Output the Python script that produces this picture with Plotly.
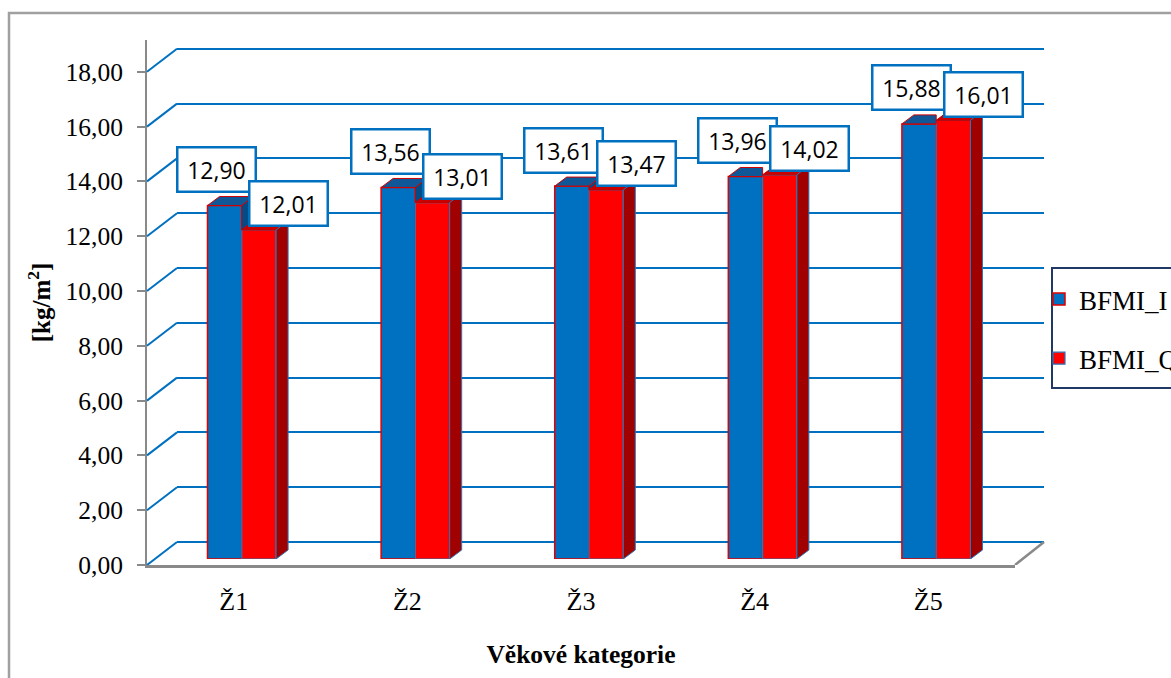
import plotly.graph_objects as go

categories = ["Ž1", "Ž2", "Ž3", "Ž4", "Ž5"]
bfmi_i = [12.90, 13.56, 13.61, 13.96, 15.88]
bfmi_q = [12.01, 13.01, 13.47, 14.02, 16.01]
y_ticks = [0, 2, 4, 6, 8, 10, 12, 14, 16, 18]

W, H = 1171, 678
SERIF = "Liberation Serif"
SANS = "Open Sans"
BLUE = "#0070C0"
RED = "#FF0000"
GRID = "#0070C0"
AXIS = "#898989"


def px(x):
    return x / W


def py(y):
    return 1 - y / H


# pixel geometry of the fake 3D box (front plane, back wall, bar plane)
Y_UNIT = 27.4            # px per 1 kg/m2
FRONT_X = (147, 1015)
BACK_X = (177, 1044)
BAR_X = (155, 1023)
FRONT_Y0, BACK_Y0, BAR_Y0 = 565, 542, 559
TOP = 40
CAT_W = (FRONT_X[1] - FRONT_X[0]) / len(categories)
DEPTH_PX = (12, 9)       # bar side/top faces
WALL_PX = BACK_X[0] - FRONT_X[0], FRONT_Y0 - BACK_Y0

idx = list(range(len(categories)))
BARGAP = 0.605
BW = (1 - BARGAP) / 2
DX = DEPTH_PX[0] / CAT_W
DY = DEPTH_PX[1] / Y_UNIT

fig = go.Figure()
# empty trace so the back-wall subplot (gridlines) gets drawn
fig.add_trace(go.Scatter(x=[], y=[], xaxis="x2", yaxis="y3", showlegend=False,
                         hoverinfo="skip"))
fig.add_trace(go.Bar(
    name="BFMI_I", x=idx, y=bfmi_i, xaxis="x3", yaxis="y2",
    marker=dict(color=BLUE, line=dict(color="#E00000", width=1.5)),
    legendgroup="i", hoverinfo="skip",
))
fig.add_trace(go.Bar(
    name="BFMI_Q", x=idx, y=bfmi_q, xaxis="x3", yaxis="y2",
    marker=dict(color=RED, line=dict(color="#2E75B6", width=1.2)),
    legendgroup="q", hoverinfo="skip",
))


def poly(pts):
    return "M " + " L ".join(f"{x},{y}" for x, y in pts) + " Z"


shapes = []
# diagonals joining front axis to back wall gridlines
for v in y_ticks:
    shapes.append(dict(type="line", xref="paper", yref="y",
                       x0=px(FRONT_X[0]), x1=px(BACK_X[0]),
                       y0=v, y1=v + WALL_PX[1] / Y_UNIT,
                       line=dict(color=GRID, width=2)))
# floor right edge
shapes.append(dict(type="line", xref="paper", yref="y",
                   x0=px(FRONT_X[1]), x1=px(BACK_X[1]),
                   y0=0, y1=WALL_PX[1] / Y_UNIT,
                   line=dict(color=AXIS, width=2.5)))

# 3D faces of the bars
for i, yb, yr in zip(idx, bfmi_i, bfmi_q):
    if yb > yr:
        top_b = [(i - BW, yb), (i - BW + DX, yb + DY), (i + DX, yb + DY), (i, yb)]
    else:
        top_b = [(i - BW, yb), (i - BW + DX, yb + DY), (i, yb + DY), (i, yb)]
    faces = [(top_b, "#0F5796", "#D00000")]
    if yb > yr:
        faces.append(([(i, yr), (i + DX, yr + DY), (i + DX, yb + DY), (i, yb)],
                      "#004C87", "#D00000"))
    faces.append(([(i, yr), (i + DX, yr + DY), (i + BW + DX, yr + DY), (i + BW, yr)],
                  "#C80000", "#C00000"))
    faces.append(([(i + BW, 0), (i + BW + DX, DY), (i + BW + DX, yr + DY), (i + BW, yr)],
                  "#A00000", "#2E75B6"))
    for pts, fill, edge in faces:
        shapes.append(dict(type="path", xref="x3", yref="y2", path=poly(pts),
                           fillcolor=fill, line=dict(color=edge, width=1),
                           layer="above"))

# outer chart border
shapes.append(dict(type="rect", xref="paper", yref="paper",
                   x0=px(9), y0=py(13), x1=px(W + 20), y1=py(H + 20),
                   line=dict(color="#A0A0A0", width=2.5)))
# legend frame (cut off by the right edge, like the source)
shapes.append(dict(type="rect", xref="paper", yref="paper",
                   x0=px(1052), y0=py(268), x1=px(W + 20), y1=py(388),
                   fillcolor="white", line=dict(color="#1F3864", width=2),
                   layer="above"))


def fmt(v):
    return f"{v:.2f}".replace(".", ",")


annotations = []
for series, sign, shift in ((bfmi_i, -1, (-8, 36)), (bfmi_q, 1, (30, 26))):
    for i, v in zip(idx, series):
        annotations.append(dict(
            x=i + sign * BW / 2, y=v, xref="x3", yref="y2",
            text=fmt(v), showarrow=False, xshift=shift[0], yshift=shift[1],
            font=dict(family=SANS, size=23, color="black"),
            bgcolor="white", bordercolor=BLUE, borderwidth=2.5,
            width=66, borderpad=5,
        ))

front_top = (FRONT_Y0 - TOP) / Y_UNIT
fig.update_layout(
    width=W, height=H,
    margin=dict(l=0, r=0, t=0, b=0, autoexpand=False),
    paper_bgcolor="white", plot_bgcolor="rgba(0,0,0,0)",
    separators=", ",
    barmode="group", bargap=BARGAP, bargroupgap=0,
    showlegend=True,
    legend=dict(x=px(1039), y=py(275), xanchor="left", yanchor="top",
                borderwidth=0, bgcolor="rgba(0,0,0,0)", itemwidth=30,
                font=dict(family=SERIF, size=27, color="black"),
                tracegroupgap=21),
    xaxis=dict(domain=[px(FRONT_X[0]), px(FRONT_X[1])], range=[-0.5, len(idx) - 0.5],
               tickvals=idx, ticktext=categories, showgrid=False, zeroline=False,
               showline=True, linecolor=AXIS, linewidth=2.5, ticks="",
               ticklabelstandoff=11,
               tickfont=dict(family=SERIF, size=26, color="black"),
               title=dict(text="Věkové kategorie", standoff=31,
                          font=dict(family=SERIF, size=25.5, color="black", weight="bold")),
               anchor="y", fixedrange=True),
    yaxis=dict(domain=[py(FRONT_Y0), py(TOP)], range=[0, front_top],
               tickvals=y_ticks, tickformat=".2f", showgrid=False, zeroline=False,
               showline=True, linecolor=AXIS, linewidth=2, ticks="outside",
               ticklen=8, tickwidth=2, tickcolor=AXIS, ticklabelstandoff=9,
               tickfont=dict(family=SERIF, size=25.5, color="black"),
               title=dict(text="[kg/m<sup>2</sup>]", standoff=8,
                          font=dict(family=SERIF, size=25, color="black", weight="bold")),
               anchor="x", fixedrange=True),
    xaxis2=dict(domain=[px(BACK_X[0]), px(BACK_X[1])], range=[-0.5, len(idx) - 0.5],
                showgrid=False, zeroline=False, showline=False, ticks="",
                showticklabels=False, anchor="y3", fixedrange=True),
    yaxis3=dict(domain=[py(BACK_Y0 + 0.2 * Y_UNIT), py(TOP - 19)],
                range=[-0.2, (BACK_Y0 - TOP + 19) / Y_UNIT],
                tickvals=y_ticks, showgrid=True, gridcolor=GRID, gridwidth=2,
                zeroline=True, zerolinecolor=GRID, zerolinewidth=2,
                showticklabels=False, ticks="", showline=False,
                anchor="x2", fixedrange=True),
    xaxis3=dict(domain=[px(BAR_X[0]), px(BAR_X[1])], range=[-0.5, len(idx) - 0.5],
                visible=False, anchor="y2", fixedrange=True),
    yaxis2=dict(domain=[py(BAR_Y0), py(TOP - 6)], range=[0, front_top],
                visible=False, anchor="x3", fixedrange=True),
    shapes=shapes,
    annotations=annotations,
)

# page body has a default 8px margin; drop it so the chart sits at 0,0
fig.write_html("out.html", config={"displayModeBar": False},
               post_script="document.body.style.margin='0';")
